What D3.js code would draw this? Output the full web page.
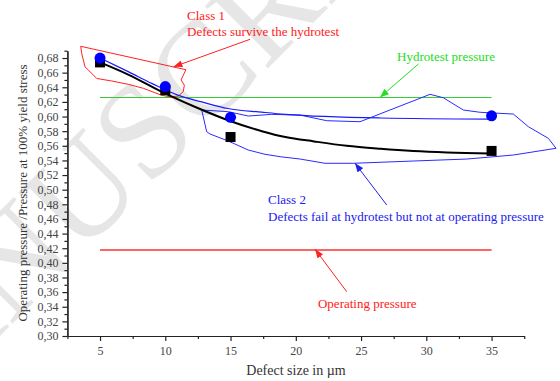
<!DOCTYPE html>
<html>
<head>
<meta charset="utf-8">
<script src="https://cdn.jsdelivr.net/npm/d3@7"></script>
<style>
  body { margin: 0; background: #fff; }
  svg { display: block; font-family: "Liberation Serif", "Times New Roman", serif; }
</style>
</head>
<body>
<svg id="chart" width="560" height="381"></svg>
<script>
// measured points (defect size in µm, pressure ratio)
const defectSizes = [5, 10, 15, 35]
const circleRatio = [0.680, 0.641, 0.599, 0.601]
const squareRatio = [0.674, 0.636, 0.572, 0.553]

// fitted curves
const blackCurve = [[5, 0.674], [7.2, 0.657], [9.7, 0.634], [12.3, 0.613], [14.8, 0.595], [17.4, 0.580],
  [19.2, 0.572], [21.4, 0.566], [23.9, 0.560], [26.5, 0.556], [29, 0.553], [31.6, 0.551], [35, 0.5495]]
const blueCurve = [[5, 0.680], [7.2, 0.661], [9, 0.645], [11, 0.629], [12.8, 0.620], [14.8, 0.611],
  [17.4, 0.606], [19.2, 0.603], [26.5, 0.598], [35, 0.5965]]

// class regions
const class1Region = [[3.52, 0.696], [11.58, 0.664], [11.21, 0.650], [11.46, 0.643], [11.38, 0.634],
  [11.0, 0.628], [10.36, 0.627], [9.73, 0.629], [8.32, 0.6386], [7.17, 0.644], [5.9, 0.6486],
  [4.75, 0.652], [4.1, 0.6636], [3.85, 0.668], [3.6, 0.686]]
const class2Region = [[12.79, 0.609], [14.83, 0.6066], [16.36, 0.6007], [18.16, 0.603], [20.33, 0.602],
  [22.37, 0.5943], [24.92, 0.5929], [30.29, 0.6304], [31.3, 0.6257], [32.84, 0.6089], [34.12, 0.6058],
  [36.67, 0.6034], [37.82, 0.5861], [39.35, 0.5702], [39.94, 0.5566], [36.67, 0.5474], [33.1, 0.5419],
  [29.0, 0.5392], [24.41, 0.5361], [22.24, 0.5361], [20.33, 0.5419], [18.8, 0.5451], [17.64, 0.5484],
  [16.36, 0.5542], [14.83, 0.5665], [13.43, 0.5761], [13.17, 0.5793]]

// reference pressures
const hydrotestLevel = 0.626
const operatingLevel = 0.4176
const levelSpan = [5, 35]

const xTicks = [5, 10, 15, 20, 25, 30, 35]
const yTicks = [0.30, 0.32, 0.34, 0.36, 0.38, 0.40, 0.42, 0.44, 0.46, 0.48, 0.50,
  0.52, 0.54, 0.56, 0.58, 0.60, 0.62, 0.64, 0.66, 0.68]

const notes = [
  {text: "Class 1", x: 11.67, y: 0.7319, color: "#ff2020"},
  {text: "Defects survive the hydrotest", x: 11.67, y: 0.7101, color: "#ff2020"},
  {text: "Hydrotest pressure", x: 27.76, y: 0.6759, color: "#22dd22"},
  {text: "Class 2", x: 17.87, y: 0.4804, color: "#2020ee"},
  {text: "Defects fail at hydrotest but not at operating pressure", x: 17.87, y: 0.4572, color: "#2020ee"},
  {text: "Operating pressure", x: 21.7, y: 0.3383, color: "#ff2020"}
]
const arrows = [
  {from: [16.5, 0.7056], to: [10.64, 0.668], color: "#ff2020"},
  {from: [29.39, 0.6718], to: [26.46, 0.6263], color: "#22dd22"},
  {from: [26.97, 0.479], to: [24.54, 0.536], color: "#2020ee"},
  {from: [23.9, 0.3606], to: [21.48, 0.4185], color: "#ff2020"}
]

const svg = d3.select("#chart")

const x = d3.scaleLinear().domain([2.5, 37.5]).range([67.4, 524.2])
const y = d3.scaleLinear().domain([0.30, 0.69]).range([336, 50.7])

// faint watermark behind everything
svg.append("text")
  .attr("transform", "translate(-144,480) rotate(-45)")
  .attr("font-size", 135)
  .attr("fill", "#e6e6e6")
  .text("MANUSCRIPT")

// axes
const fmt = d => d3.format(".2f")(d).replace(".", ",")
const yMinor = yTicks.map(v => +(v + 0.01).toFixed(2))
const xMinor = xTicks.map(v => v - 2.5).concat([37.5])

svg.append("g").attr("transform", "translate(67.4,0)")
  .call(d3.axisLeft(y).tickValues(yMinor).tickSize(3).tickSizeOuter(0).tickFormat(""))
svg.append("g").attr("transform", "translate(67.4,0)")
  .call(d3.axisLeft(y).tickValues(yTicks).tickSize(5).tickSizeOuter(0).tickPadding(4).tickFormat(fmt))
svg.append("g").attr("transform", "translate(0,336)")
  .call(d3.axisBottom(x).tickValues(xMinor).tickSize(3).tickSizeOuter(0).tickFormat(""))
svg.append("g").attr("transform", "translate(0,336)")
  .call(d3.axisBottom(x).tickValues(xTicks).tickSize(5).tickSizeOuter(0).tickPadding(5))

svg.selectAll(".domain, .tick line").attr("stroke", "#222").attr("stroke-width", 1.2)
svg.selectAll(".tick text").attr("fill", "#444").attr("font-size", 12)
  .attr("font-family", "Liberation Serif, serif")

svg.append("text")
  .attr("x", 296).attr("y", 375)
  .attr("text-anchor", "middle").attr("font-size", 14).attr("fill", "#333")
  .text("Defect size in \u00b5m")
svg.append("text")
  .attr("transform", "translate(27,193) rotate(-90)")
  .attr("text-anchor", "middle").attr("font-size", 13).attr("fill", "#333")
  .text("Operating pressure /Pressure at 100% yield stress")

// reference lines
svg.append("line")
  .attr("x1", x(levelSpan[0])).attr("x2", x(levelSpan[1]))
  .attr("y1", y(hydrotestLevel)).attr("y2", y(hydrotestLevel))
  .attr("stroke", "#33cc33").attr("stroke-width", 1.2)
svg.append("line")
  .attr("x1", x(levelSpan[0])).attr("x2", x(levelSpan[1]))
  .attr("y1", y(operatingLevel)).attr("y2", y(operatingLevel))
  .attr("stroke", "#ff3030").attr("stroke-width", 1.5)

// regions
const closed = d3.line().x(d => x(d[0])).y(d => y(d[1])).curve(d3.curveLinearClosed)
svg.append("path").attr("d", closed(class1Region))
  .attr("fill", "none").attr("stroke", "#ff2020").attr("stroke-width", 1)
svg.append("path").attr("d", closed(class2Region))
  .attr("fill", "none").attr("stroke", "#2a2aff").attr("stroke-width", 1)

// curves
const smooth = d3.line().x(d => x(d[0])).y(d => y(d[1])).curve(d3.curveMonotoneX)
svg.append("path").attr("d", smooth(blueCurve))
  .attr("fill", "none").attr("stroke", "#1a1aff").attr("stroke-width", 1.2)
svg.append("path").attr("d", smooth(blackCurve))
  .attr("fill", "none").attr("stroke", "#000").attr("stroke-width", 2)

// points
svg.selectAll(".sq").data(defectSizes).join("rect")
  .attr("x", d => x(d) - 5).attr("y", (d, i) => y(squareRatio[i]) - 5)
  .attr("width", 10).attr("height", 10).attr("fill", "#000")
svg.selectAll(".dot").data(defectSizes).join("circle")
  .attr("cx", d => x(d)).attr("cy", (d, i) => y(circleRatio[i]))
  .attr("r", 5.5).attr("fill", "#0000ff")

// arrows
const defs = svg.append("defs")
arrows.forEach((a, i) => {
  defs.append("marker").attr("id", "head" + i)
    .attr("markerUnits", "userSpaceOnUse")
    .attr("viewBox", "0 0 10 8").attr("refX", 10).attr("refY", 4)
    .attr("markerWidth", 9).attr("markerHeight", 7).attr("orient", "auto")
    .append("path").attr("d", "M0,0L10,4L0,8Z").attr("fill", a.color)
  svg.append("line")
    .attr("x1", x(a.from[0])).attr("y1", y(a.from[1]))
    .attr("x2", x(a.to[0])).attr("y2", y(a.to[1]))
    .attr("stroke", a.color).attr("stroke-width", 1)
    .attr("marker-end", "url(#head" + i + ")")
})

svg.selectAll(".note").data(notes).join("text")
  .attr("x", d => x(d.x)).attr("y", d => y(d.y))
  .attr("font-size", 13).attr("fill", d => d.color)
  .text(d => d.text)
</script>
</body>
</html>
